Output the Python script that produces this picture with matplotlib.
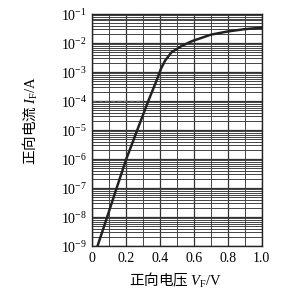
import matplotlib
matplotlib.use('Agg')
import matplotlib.pyplot as plt
import numpy as np

plt.rcParams['font.family'] = ['Liberation Serif', 'Noto Sans CJK SC']
plt.rcParams['mathtext.fontset'] = 'custom'
plt.rcParams['mathtext.rm'] = 'Liberation Serif'
plt.rcParams['mathtext.it'] = 'Liberation Serif:italic'
plt.rcParams['mathtext.bf'] = 'Liberation Serif:bold'
plt.rcParams['mathtext.sf'] = 'Liberation Serif'

# forward voltage (V) and log10 of forward current (A)
voltage = [0.03, 0.087, 0.143, 0.20, 0.265, 0.33, 0.373, 0.407, 0.43, 0.467, 0.527, 0.59, 0.70, 0.80, 0.90, 1.00]
log_current = [-9.0, -8.0, -7.0, -6.0, -5.0, -4.0, -3.38, -2.86, -2.6, -2.32, -2.1, -1.93, -1.71, -1.6, -1.52, -1.47]
current = [10 ** v for v in log_current]

ref_current = 1e-4
ref_voltage = 0.3

x_ticks = [0, 0.2, 0.4, 0.6, 0.8, 1.0]
x_labels = ['0', '0.2', '0.4', '0.6', '0.8', '1.0']
y_exponents = list(range(-9, 0))
y_ticks = [10.0 ** k for k in y_exponents]

fig = plt.figure(figsize=(3.06, 2.93), dpi=100)
ax = fig.add_axes([0.302, 0.160, 0.553, 0.792])

ax.set_yscale('log')
ax.set_xlim(0, 1.0)
ax.set_ylim(1e-9, 1e-1)

ax.set_xticks(x_ticks)
ax.set_xticklabels(x_labels)
ax.set_xticks(np.arange(0.1, 1.0, 0.2), minor=True)
ax.set_yticks(y_ticks)
ax.set_yticklabels(['10$^{\\mathsf{\u2212%d}}$' % -k for k in y_exponents])

ax.grid(True, which='major', color='#333333', linewidth=0.9)
ax.grid(True, which='minor', color='#444444', linewidth=0.7)
ax.tick_params(which='both', length=0, labelsize=10, pad=4)
for s in ax.spines.values():
    s.set_color('#222222')
    s.set_linewidth(1.0)

ax.plot([0, ref_voltage], [ref_current, ref_current], color='#666666',
        linestyle=(0, (3, 2)), linewidth=0.9)
ax.plot(voltage, current, color='#222222', linewidth=1.8)

ax.set_xlabel('正向电压 $V_{\\mathsf{F}}/\\mathsf{V}$', fontsize=10.5,
              family=['Noto Sans CJK SC'])
ax.set_ylabel('正向电流 $I_{\\mathsf{F}}/\\mathsf{A}$', fontsize=10.5,
              family=['Noto Sans CJK SC'])
ax.xaxis.set_label_coords(0.49, -0.105)
ax.yaxis.set_label_coords(-0.31, 0.54)

plt.savefig('out.png', dpi=100)
